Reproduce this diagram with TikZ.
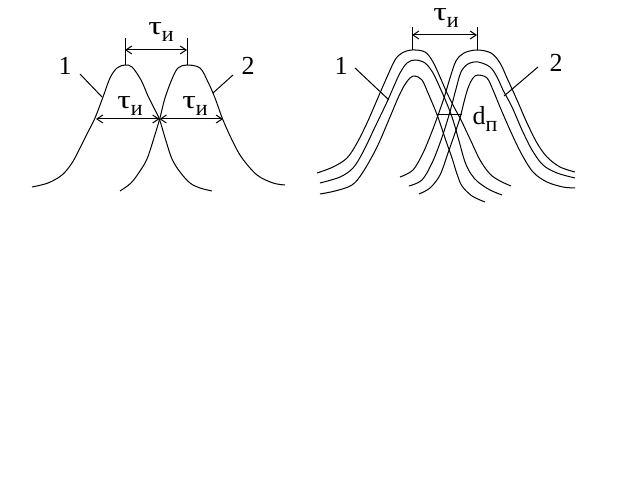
\documentclass[tikz,border=0pt]{standalone}
\usepackage{fontspec}
\setmainfont{Liberation Serif}
\usetikzlibrary{arrows.meta}
\newcommand{\lowsub}[1]{\raisebox{-0.55ex}{\fontsize{11}{12}\selectfont #1}}
\newcommand{\widetau}{\scalebox{1.3}[1]{τ}}
\tikzset{
    pulse/.style={line width=0.5pt, smooth, tension=0.55},
    dim/.style={line width=0.5pt, {Straight Barb[length=3pt,width=4pt]}-{Straight Barb[length=3pt,width=4pt]}},
    leader/.style={line width=0.5pt},
    lbl/.style={inner sep=0pt, font=\fontsize{13}{15}\selectfont}
}
\begin{document}
\begin{tikzpicture}[x=0.5pt,y=-0.5pt]
    \useasboundingbox (0,0) rectangle (640,480);

    % left picture: two pulses
    \draw[pulse] plot coordinates {(32,187) (48,183) (62,175) (72,163) (80,148) (88,132) (95,118) (103,97) (110,78) (117,68) (125,65) (132,67) (141,80) (148,96) (154,108) (159.5,119.5) (166,141) (172,159) (180,172) (190,183) (200,188) (212,191)};
    \draw[pulse] plot coordinates {(120,191) (131,183) (140,171) (147,159) (153,141) (159.5,119.5) (165,98) (172,79) (178,68) (187,65) (200,68) (208,82) (215,98) (223,120) (233,142) (242,158) (257,175) (273,183) (285,185)};

    \coordinate (La) at (125,65);
    \coordinate (Lb) at (187,65);
    \coordinate (La') at (125,38);
    \coordinate (Lb') at (187,38);
    \coordinate (La'') at (125,50);
    \coordinate (Lb'') at (187,50);
    \coordinate (Lx) at (159.5,119);
    \coordinate (Ll) at (96,119);
    \coordinate (Lr) at (223,119);

    \node[lbl] (Ltau) at (161,32) {\widetau\lowsub{и}};
    \node[lbl] (Ltau1) at (130,106) {\widetau\lowsub{и}};
    \node[lbl] (Ltau2) at (195,106) {\widetau\lowsub{и}};
    \node[lbl] (L1) at (65,66) {1};
    \node[lbl] (L2) at (248,66) {2};

    \path [leader] (La) edge (La');
    \path [leader] (Lb) edge (Lb');
    \path [dim] (La'') edge (Lb'');
    \path [dim] (Ll) edge (Lx);
    \path [dim] (Lx) edge (Lr);

    \coordinate (L1a) at (80,74);
    \coordinate (L1b) at (102,97);
    \coordinate (L2a) at (233,75);
    \coordinate (L2b) at (213,93);
    \path [leader] (L1a) edge (L1b);
    \path [leader] (L2a) edge (L2b);

    % right picture: pulses with spot width
    \draw[pulse] plot coordinates {(317,173) (333,167) (347,158) (357,143) (367,123) (377,100) (387,77) (395,60) (402,53) (412,50) (425,52) (433,62) (440,77) (447,93) (454,107) (461,120) (470,139) (480,160) (490,174) (500,181) (511,186)};
    \draw[pulse] plot coordinates {(320,183) (340,177) (353,168) (363,152) (375,127) (387,102) (394,86) (400,73) (407,63) (415,60) (425,63) (433,73) (441,90) (447,104) (453,120) (459,141) (465,162) (471,174) (478,182) (490,190) (502,195)};
    \draw[pulse] plot coordinates {(320,194) (335,191) (352,185) (363,172) (377,147) (390,117) (398,98) (404,86) (410,78) (415,76) (422,80) (428,93) (436,112) (441,126) (446,141) (452,158) (457,174) (462,186) (472,196) (485,202)};
    \draw[pulse] plot coordinates {(400,177) (413,170) (423,153) (431,134) (437,118) (444,98) (450,78) (456,61) (464,53) (477,50) (491,53) (500,63) (507,78) (517,100) (527,123) (537,143) (547,157) (560,167) (575,172)};
    \draw[pulse] plot coordinates {(409,186) (422,180) (432,163) (440,143) (446,125) (451,108) (456,89) (461,72) (468,64) (478,62) (490,67) (497,77) (503,90) (512,107) (522,130) (532,150) (543,165) (557,173) (575,178)};
    \draw[pulse] plot coordinates {(419,194) (430,188) (440,175) (448,153) (455,133) (460,118) (464,102) (468,88) (473,78) (478,75) (487,78) (493,90) (500,107) (510,130) (521,153) (533,172) (547,182) (563,187) (575,188)};

    \coordinate (Ra) at (412,50);
    \coordinate (Rb) at (477,50);
    \coordinate (Ra') at (412,27);
    \coordinate (Rb') at (477,27);
    \coordinate (Ra'') at (412,35);
    \coordinate (Rb'') at (477,35);
    \coordinate (Rd1) at (437,115);
    \coordinate (Rd2) at (462,115);

    \node[lbl] (Rtau) at (446,18) {\widetau\lowsub{и}};
    \node[lbl] (Rd) at (485,119) {d\lowsub{п}};
    \node[lbl] (R1) at (341,66) {1};
    \node[lbl] (R2) at (556,63) {2};

    \path [leader] (Ra) edge (Ra');
    \path [leader] (Rb) edge (Rb');
    \path [dim] (Ra'') edge (Rb'');
    \path [leader] (Rd1) edge (Rd2);

    \coordinate (R1a) at (355,68);
    \coordinate (R1b) at (389,100);
    \coordinate (R2a) at (538,67);
    \coordinate (R2b) at (504,96);
    \path [leader] (R1a) edge (R1b);
    \path [leader] (R2a) edge (R2b);
\end{tikzpicture}
\end{document}
